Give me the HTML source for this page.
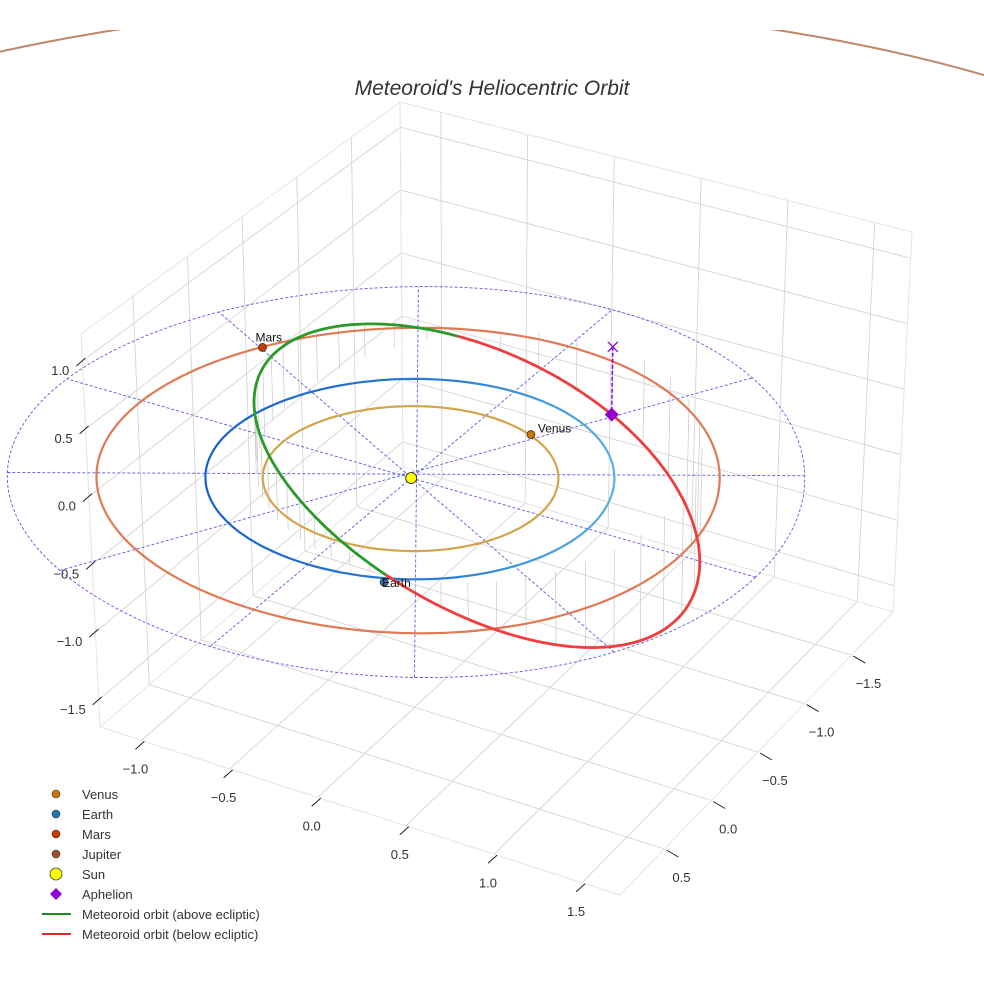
<!DOCTYPE html>
<html><head><meta charset="utf-8"><style>
html,body{margin:0;padding:0;background:#fff;}
svg{display:block;font-family:"Liberation Sans",sans-serif;}
</style></head><body>
<svg id="chart" width="984" height="984" viewBox="0 0 984 984" xmlns="http://www.w3.org/2000/svg">
<defs>
<linearGradient id="earthGrad" x1="0" y1="0" x2="1" y2="0"><stop offset="0" stop-color="#1a5fd0"/><stop offset="0.6" stop-color="#2a7fd4"/><stop offset="1" stop-color="#5ab0e0"/></linearGradient>
<clipPath id="topClip"><rect x="0" y="30" width="984" height="80"/></clipPath>
</defs>
<g id="grid"></g>
<g id="ticks"></g>
<g id="marks"></g>
<ellipse cx="446" cy="405" rx="951" ry="400" fill="none" stroke="#c0866a" stroke-width="2" clip-path="url(#topClip)"/>
<text x="492" y="95" text-anchor="middle" font-size="21" font-style="italic" fill="#333">Meteoroid's Heliocentric Orbit</text>
<g font-size="13" fill="#333">
<circle cx="56" cy="794" r="4" fill="#c8780a" stroke="#333" stroke-width="0.6"/><text x="82" y="799">Venus</text>
<circle cx="56" cy="814" r="4" fill="#1f77b4" stroke="#333" stroke-width="0.6"/><text x="82" y="819">Earth</text>
<circle cx="56" cy="834" r="4" fill="#cc3a00" stroke="#333" stroke-width="0.6"/><text x="82" y="839">Mars</text>
<circle cx="56" cy="854" r="4" fill="#a0522d" stroke="#333" stroke-width="0.6"/><text x="82" y="859">Jupiter</text>
<circle cx="56" cy="874" r="6" fill="#ffff00" stroke="#333" stroke-width="0.8"/><text x="82" y="879">Sun</text>
<polygon points="56,888 62,894 56,900 50,894" fill="#9400d3"/><text x="82" y="899">Aphelion</text>
<line x1="42" y1="914" x2="71" y2="914" stroke="#1a8a1a" stroke-width="2"/><text x="82" y="919">Meteoroid orbit (above ecliptic)</text>
<line x1="42" y1="934" x2="71" y2="934" stroke="#e02828" stroke-width="2"/><text x="82" y="939">Meteoroid orbit (below ecliptic)</text>
</g>
</svg>
<script>
// ---- data ----
const xTicks = [-1.0, -0.5, 0.0, 0.5, 1.0, 1.5];
const xTickLabels = ["\u22121.0", "\u22120.5", "0.0", "0.5", "1.0", "1.5"];
const yTicks = [-1.5, -1.0, -0.5, 0.0, 0.5];
const yTickLabels = ["\u22121.5", "\u22121.0", "\u22120.5", "0.0", "0.5"];
const zTicks = [-1.5, -1.0, -0.5, 0.0, 0.5, 1.0];
const zTickLabels = ["\u22121.5", "\u22121.0", "\u22120.5", "0.0", "0.5", "1.0"];
const planetNames = ["Venus", "Earth", "Mars"];
const planetRadii = [0.723, 1.0, 1.524];
const planetX = [0.29, 0.40, -1.31];
const planetY = [-0.67, 0.96, -0.77];
const meteoroidA = [1.32];
const meteoroidE = [0.345];
const meteoroidInc = [33];
const meteoroidNode = [67.4];
const meteoroidPeri = [54];
const aphelionMarkerAnomaly = [160];
const refRingRadius = [1.95];
const refSpokeAngles = [0, 30, 60, 90, 120, 150];

// ---- axis mapping (3D box -> screen) ----
const xLim = [-1.235, 1.715], yLim = [-1.945, 0.975], zLim = [-1.7, 1.2];
const C = {
  "000":[403,467], "100":[893,612], "010":[100,727], "110":[620,895],
  "001":[400,102], "101":[912,232], "011":[81,334], "111":[618,483]
};
function lerp(a,b,t){return [a[0]+(b[0]-a[0])*t, a[1]+(b[1]-a[1])*t];}
function P(x,y,z){
  const u=(x-xLim[0])/(xLim[1]-xLim[0]), v=(y-yLim[0])/(yLim[1]-yLim[0]), w=(z-zLim[0])/(zLim[1]-zLim[0]);
  const b=lerp(lerp(C["000"],C["100"],u), lerp(C["010"],C["110"],u), v);
  const t=lerp(lerp(C["001"],C["101"],u), lerp(C["011"],C["111"],u), v);
  return lerp(b,t,w);
}
const NS="http://www.w3.org/2000/svg";
function mk(tag, parent){const e=document.createElementNS(NS,tag); parent.appendChild(e); return e;}
function line(parent,a,b,stroke,sw){const e=mk("line",parent); e.setAttribute("x1",a[0].toFixed(1)); e.setAttribute("y1",a[1].toFixed(1)); e.setAttribute("x2",b[0].toFixed(1)); e.setAttribute("y2",b[1].toFixed(1)); e.setAttribute("stroke",stroke); e.setAttribute("stroke-width",sw); return e;}
function pathD(pts){return pts.map((p,i)=>(i?"L":"M")+p[0].toFixed(1)+","+p[1].toFixed(1)).join("");}

const grid=document.getElementById("grid"), ticks=document.getElementById("ticks"), marks=document.getElementById("marks");
const gc="#d4d4d4";
xTicks.forEach(x=>{const l=line(grid,P(x,yLim[0],zLim[0]),P(x,yLim[1],zLim[0]),gc,0.9);

});
yTicks.forEach(y=>{const l=line(grid,P(xLim[0],y,zLim[0]),P(xLim[1],y,zLim[0]),gc,0.9);

});
yTicks.forEach(y=>{const l=line(grid,P(xLim[0],y,zLim[0]),P(xLim[0],y,zLim[1]),gc,0.9);

});
zTicks.forEach(z=>{const l=line(grid,P(xLim[0],yLim[0],z),P(xLim[0],yLim[1],z),gc,0.9);

});
xTicks.forEach(x=>{const l=line(grid,P(x,yLim[0],zLim[0]),P(x,yLim[0],zLim[1]),gc,0.9);

});
zTicks.forEach(z=>{const l=line(grid,P(xLim[0],yLim[0],z),P(xLim[1],yLim[0],z),gc,0.9);

});
[[[0,0,0],[1,0,0]],[[0,0,0],[0,1,0]],[[1,0,0],[1,1,0]],[[0,1,0],[1,1,0]],[[0,0,0],[0,0,1]],[[0,1,0],[0,1,1]],[[1,0,0],[1,0,1]],[[0,0,1],[0,1,1]],[[0,0,1],[1,0,1]]].forEach(s=>{
  const a=s[0],b=s[1];
  const l=line(grid,P(xLim[a[0]],yLim[a[1]],zLim[a[2]]),P(xLim[b[0]],yLim[b[1]],zLim[b[2]]),"#e4e4e4",1);
  
  
});
function tickText(p,txt,anchor){const t=mk("text",ticks); t.setAttribute("x",p[0].toFixed(1)); t.setAttribute("y",p[1].toFixed(1)); t.setAttribute("font-size","13"); t.setAttribute("fill","#333"); t.setAttribute("text-anchor",anchor); t.textContent=txt; return t;}
xTicks.forEach((x,i)=>{const e=P(x,yLim[1],zLim[0]);
  const l=line(ticks,[e[0]+3,e[1]+1],[e[0]-6,e[1]+9],"#222",1);
  
  
  const t=tickText([e[0]-6,e[1]+33],xTickLabels[i],"middle");
  
  });
yTicks.forEach((y,i)=>{const e=P(xLim[1],y,zLim[0]);
  const l=line(ticks,[e[0]+2,e[1]+1],[e[0]+14,e[1]+8],"#222",1);
  
  
  const t=tickText([e[0]+17,e[1]+33],yTickLabels[i],"middle");
  
  });
zTicks.forEach((z,i)=>{const e=P(xLim[0],yLim[1],z);
  const l=line(ticks,[e[0]+3,e[1]-3],[e[0]-6,e[1]+5],"#222",1);
  
  
  const t=tickText([e[0]-13,e[1]+14],zTickLabels[i],"end");
  
  });

function circlePts(r){const pts=[];for(let d=0;d<=360;d+=2){const a=d*Math.PI/180;pts.push(P(r*Math.cos(a),r*Math.sin(a),0));}return pts;}
{const p=mk("path",marks); p.setAttribute("d",pathD(circlePts(refRingRadius[0]))); p.setAttribute("fill","none"); p.setAttribute("stroke","#5a5ae0"); p.setAttribute("stroke-width","0.9"); p.setAttribute("stroke-dasharray","3,2");

}
refSpokeAngles.forEach(d=>{const a=d*Math.PI/180,r=refRingRadius[0];
  const l=line(marks,P(r*Math.cos(a),r*Math.sin(a),0),P(-r*Math.cos(a),-r*Math.sin(a),0),"#5a5ae0",0.9); l.setAttribute("stroke-dasharray","3,2");
  
  });
{const p=mk("path",marks); p.setAttribute("d",pathD(circlePts(1.0))); p.setAttribute("fill","none"); p.setAttribute("stroke","#5a5ae0"); p.setAttribute("stroke-width","0.8"); p.setAttribute("stroke-dasharray","3,2");

}

const a=meteoroidA[0], e=meteoroidE[0], inc=meteoroidInc[0]*Math.PI/180, Om=meteoroidNode[0]*Math.PI/180, w=meteoroidPeri[0]*Math.PI/180;
const pLat=a*(1-e*e);
function orb(nuDeg){const nu=nuDeg*Math.PI/180, r=pLat/(1+e*Math.cos(nu)), u=nu+w;
  return [r*(Math.cos(u)*Math.cos(Om)-Math.sin(u)*Math.sin(Om)*Math.cos(inc)), r*(Math.cos(u)*Math.sin(Om)+Math.sin(u)*Math.cos(Om)*Math.cos(inc)), r*Math.sin(u)*Math.sin(inc)];}
for(let nu=0;nu<360;nu+=8){const q=orb(nu); if(Math.abs(q[2])<0.05) continue;
  const l=line(marks,P(q[0],q[1],0),P(q[0],q[1],q[2]),"#c8c8c8",0.7);
  
  }

const orbitColors=["#d4a44c","url(#earthGrad)","#e07a55"];
planetRadii.forEach((r,i)=>{const p=mk("path",marks); p.setAttribute("d",pathD(circlePts(r))); p.setAttribute("fill","none"); p.setAttribute("stroke",orbitColors[i]); p.setAttribute("stroke-width","2.2");
  
  });

const above=[],below=[]; let cur=null,curSign=null;
for(let nu=-180;nu<=180;nu+=1){const q=orb(nu); const s=q[2]>=0; const sp=P(q[0],q[1],q[2]);
  if(s!==curSign){ if(cur){cur.push(sp);} cur=[sp]; (s?above:below).push(cur); curSign=s; } else cur.push(sp);}
above.forEach(seg=>{const p=mk("path",marks); p.setAttribute("d",pathD(seg)); p.setAttribute("fill","none"); p.setAttribute("stroke","#2a9a2a"); p.setAttribute("stroke-width","2.8");
  
  });
below.forEach(seg=>{const p=mk("path",marks); p.setAttribute("d",pathD(seg)); p.setAttribute("fill","none"); p.setAttribute("stroke","#ee3e3e"); p.setAttribute("stroke-width","2.8");
  
  });

{const q=orb(aphelionMarkerAnomaly[0]), s=P(q[0],q[1],q[2]), g=P(q[0],q[1],0);
  const l=line(marks,g,s,"#9400d3",1.5); l.setAttribute("stroke-dasharray","4,2");
  
  
  const x1=line(marks,[g[0]-5,g[1]-5],[g[0]+5,g[1]+5],"#9400d3",1.3);
  
  
  const x2=line(marks,[g[0]-5,g[1]+5],[g[0]+5,g[1]-5],"#9400d3",1.3);
  
  
  const d=mk("polygon",marks); d.setAttribute("points",`${s[0]},${s[1]-7} ${s[0]+7},${s[1]} ${s[0]},${s[1]+7} ${s[0]-7},${s[1]}`); d.setAttribute("fill","#9400d3");
  
  }

const planetColors=["#c8780a","#1f77b4","#cc3a00"];
const labelDx=[7,-2,-7], labelDy=[-2,5,-6];
planetNames.forEach((n,i)=>{const s=P(planetX[i],planetY[i],0);
  const c=mk("circle",marks); c.setAttribute("cx",s[0].toFixed(1)); c.setAttribute("cy",s[1].toFixed(1)); c.setAttribute("r","4"); c.setAttribute("fill",planetColors[i]); c.setAttribute("stroke","#222"); c.setAttribute("stroke-width","0.7");
  
  
  const t=mk("text",marks); t.setAttribute("x",(s[0]+labelDx[i]).toFixed(1)); t.setAttribute("y",(s[1]+labelDy[i]).toFixed(1)); t.setAttribute("font-size","12"); t.setAttribute("fill","#111"); t.textContent=n;
  
  });
{const s=P(0,0,0); const c=mk("circle",marks); c.setAttribute("cx",s[0].toFixed(1)); c.setAttribute("cy",s[1].toFixed(1)); c.setAttribute("r","5.5"); c.setAttribute("fill","#ffff00"); c.setAttribute("stroke","#333"); c.setAttribute("stroke-width","0.9");
  
  }
</script>
</body></html>
